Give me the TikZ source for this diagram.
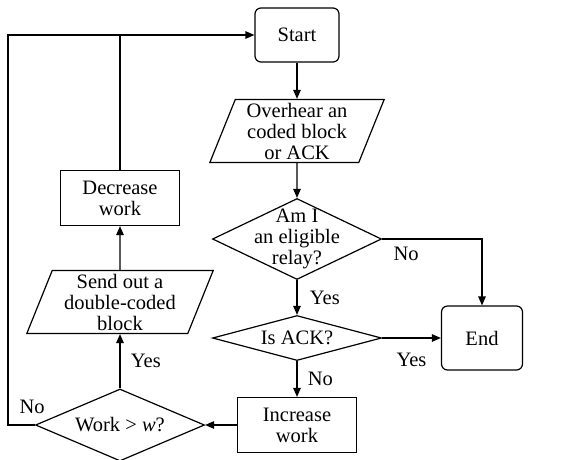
\documentclass[tikz,border=0pt]{standalone}
\usepackage{fontspec}
\setmainfont{Liberation Serif}
\usepackage{xcolor}
\usepackage{tikz}
\usetikzlibrary{arrows.meta}
\usetikzlibrary{calc}
\usetikzlibrary{positioning}
\usetikzlibrary{shapes.geometric}

\begin{document}
\begin{tikzpicture}[x=1pt,y=1pt,->,>={Triangle[length=9pt,width=7.5pt]},line width=1.2pt,auto,
    font=\fontsize{20.5}{21}\selectfont,
    term node/.style={rectangle,rounded corners=6pt,draw,align=center},
    main node/.style={rectangle,draw,align=center,minimum width=119pt,minimum height=55pt},
    io node/.style={trapezium,trapezium left angle=68,trapezium right angle=112,draw,align=center,inner xsep=5pt,inner ysep=0pt,minimum height=63pt},
    test node/.style={diamond,draw,minimum width=169pt,inner sep=0pt}]

    \useasboundingbox (0,0) rectangle (561,-459);

    \node[term node, minimum width=84pt, minimum height=54pt] (start) at (297,-35) {Start};
    \node[io node, on grid, below=96pt of start] (overhear) {Overhear an\\coded block\\or ACK};
    \node[test node, minimum height=81pt, on grid, below=108pt of overhear,
          label={[align=center]center:Am I\\an eligible\\relay?}] (eligible) {};
    \node[test node, minimum height=45pt, on grid, below=99pt of eligible,
          label={center:Is ACK?}] (is-ack) {};
    \node[term node, minimum width=81pt, minimum height=64pt, on grid, right=185pt of is-ack] (end) {End};
    \node[main node, on grid, below=87pt of is-ack] (increase) {Increase\\work};
    \node[test node, minimum height=72pt, on grid, left=177pt of increase,
          label={center:Work > \textit{w}?}] (work) {};
    \node[io node, on grid, above=123pt of work] (send) {Send out a\\double-coded\\block};
    \node[main node, on grid, above=104pt of send] (decrease) {Decrease\\work};

    \path
        (start) edge[] (overhear)
        (overhear) edge[] (eligible)
        (eligible) edge[] node[right, xshift=9pt] (yes-relay) {Yes} (is-ack)
        (is-ack) edge[] node[below, yshift=-11pt] (yes-ack) {Yes} (end)
        (is-ack) edge[] node[right, xshift=7pt] (no-ack) {No} (increase)
        (increase) edge[] (work)
        (work) edge[] node[right, xshift=7pt] (yes-work) {Yes} (send)
        (send) edge[] (decrease);

    \path[draw,->]
    (eligible.east)
    -| node[below, pos=0.12, yshift=-4pt] (no-relay) {No}
    (end.north);

    \path[draw,->]
    (work.west)
    -- node[above, pos=0.1, yshift=7pt] (no-work) {No} ++(-27,0)
    |- (start.west);

    \path[draw,-]
    (decrease.north)
    -- (decrease.north |- start.west);

\end{tikzpicture}
\end{document}
